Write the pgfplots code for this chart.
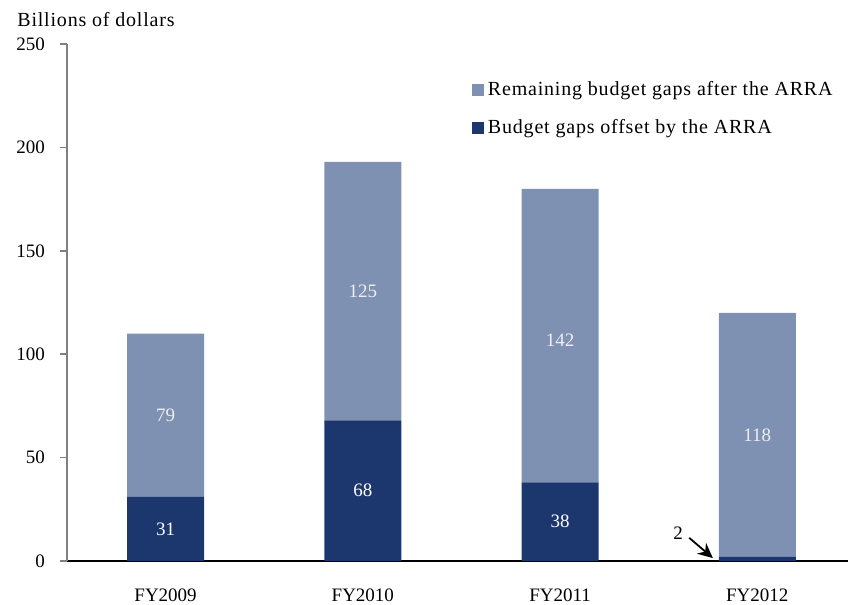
\documentclass[border=0pt]{standalone}
\usepackage{fontspec}
\setmainfont{Liberation Serif}
\newfontfamily\spaced[LetterSpace=4]{Liberation Serif}
\newcommand{\lfont}{\fontsize{10}{12}\spaced}
\newcommand{\tfont}{\fontsize{9.5}{11}\selectfont}
\usepackage{pgfplots}
\pgfplotsset{compat=1.18}
\usetikzlibrary{arrows.meta}
\definecolor{darkbar}{RGB}{28,54,110}
\definecolor{lightbar}{RGB}{127,145,178}
\definecolor{axgray}{RGB}{128,128,128}
\definecolor{lbltext}{RGB}{238,238,238}
\pgfplotsset{samegeom/.style={
  at={(33.5pt,22pt)}, anchor=south west,
  scale only axis, width=390.5pt, height=258.5pt,
  xmin=-0.5, xmax=3.46, ymin=0, ymax=250}}
\begin{document}
\begin{tikzpicture}
\path[use as bounding box] (0,0) rectangle (424pt,302.5pt);
\node[anchor=west,inner sep=0pt,font=\lfont] at (8.5pt,292.5pt) {Billions of dollars};
\begin{axis}[
  samegeom,
  ybar stacked, bar width=38.5pt,
  axis x line=bottom, axis y line=left,
  axis line style={-},
  x axis line style={black, line width=0.75pt},
  y axis line style={axgray, line width=0.75pt},
  xtick={0,1,2,3},
  xticklabels={FY2009,FY2010,FY2011,FY2012},
  xtick style={draw=none},
  ytick={0,50,100,150,200,250},
  ytick style={axgray, line width=0.75pt},
  tick align=outside, major tick length=3.5pt,
  /pgf/number format/assume math mode=true,
  tick label style={font=\tfont},
  xticklabel style={yshift=-7pt},
  yticklabel style={xshift=-4pt},
  legend style={at={(rel axis cs:0.518,0.937)}, anchor=north west, draw=none, fill=none,
    font=\lfont, row sep=6.5pt, inner sep=0pt},
  legend image code/.code={\fill[#1] (0pt,-3pt) rectangle (6pt,3pt);},
  legend cell align=left,
  clip=false,
]
\addplot[fill=darkbar, draw=none, forget plot] coordinates {(0,31) (1,68) (2,38) (3,2)};
\addplot[fill=lightbar, draw=none, forget plot] coordinates {(0,79) (1,125) (2,142) (3,118)};
\addlegendimage{fill=lightbar, draw=none}
\addlegendentry{Remaining budget gaps after the ARRA}
\addlegendimage{fill=darkbar, draw=none}
\addlegendentry{Budget gaps offset by the ARRA}
\end{axis}
\begin{axis}[samegeom, hide axis, clip=false]
\node[font=\tfont, text=white] at (axis cs:0,15.5) {31};
\node[font=\tfont, text=white] at (axis cs:1,34) {68};
\node[font=\tfont, text=white] at (axis cs:2,19) {38};
\node[font=\tfont, text=lbltext] at (axis cs:0,70.5) {79};
\node[font=\tfont, text=lbltext] at (axis cs:1,130.5) {125};
\node[font=\tfont, text=lbltext] at (axis cs:2,107) {142};
\node[font=\tfont, text=lbltext] at (axis cs:3,61) {118};
\node[font=\tfont] at (axis cs:2.598,13.5) {2};
\draw[line width=0.9pt, -{Stealth[length=7.5pt,width=7pt]}] (axis cs:2.655,11.2) -- (axis cs:2.775,1.4);
\end{axis}
\end{tikzpicture}
\end{document}
